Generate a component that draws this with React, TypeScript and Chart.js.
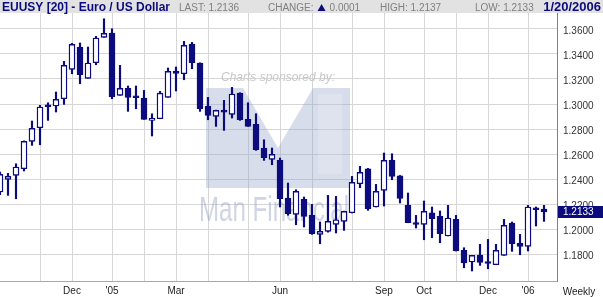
import React, { useEffect, useRef } from 'react';
import { Chart, registerables } from 'chart.js';

Chart.register(...registerables);

// ---- data (weekly candles, EUR/USD) ----
const opens = [
  1.2296, 1.2397, 1.2429, 1.2482, 1.2701, 1.2810, 1.2989, 1.2984, 1.3042, 1.3277,
  1.3456, 1.3205, 1.3330, 1.3533, 1.3568, 1.3069, 1.3125, 1.3056, 1.3048, 1.2869,
  1.2882, 1.3053, 1.3263, 1.3242, 1.3480, 1.3328, 1.2981, 1.2901, 1.2949, 1.2917,
  1.3088, 1.2877, 1.2837, 1.2648, 1.2557, 1.2549, 1.2248, 1.2117, 1.2237, 1.2109,
  1.1957, 1.1981, 1.2037, 1.2061, 1.2130, 1.2362, 1.2482, 1.2176, 1.2309, 1.2549,
  1.2426, 1.2189, 1.2042, 1.2037, 1.2130, 1.2101, 1.1944, 1.2077, 1.1829, 1.1736,
  1.1792, 1.1730, 1.1714, 1.1789, 1.2048, 1.1888, 1.1861, 1.2168, 1.2160,
];
const highs = [
  1.2456, 1.2445, 1.2522, 1.2705, 1.2864, 1.2989, 1.3010, 1.3096, 1.3341, 1.3485,
  1.3488, 1.3456, 1.3541, 1.3682, 1.3602, 1.3309, 1.3144, 1.3144, 1.3109, 1.2922,
  1.3101, 1.3288, 1.3296, 1.3501, 1.3493, 1.3330, 1.3053, 1.2951, 1.3029, 1.3133,
  1.3090, 1.3010, 1.2922, 1.2714, 1.2648, 1.2568, 1.2368, 1.2314, 1.2256, 1.2197,
  1.2056, 1.2269, 1.2261, 1.2143, 1.2421, 1.2501, 1.2485, 1.2357, 1.2608, 1.2602,
  1.2428, 1.2288, 1.2109, 1.2224, 1.2176, 1.2144, 1.2189, 1.2109, 1.1850, 1.1789,
  1.1877, 1.1917, 1.1877, 1.2077, 1.2056, 1.1957, 1.2189, 1.2176, 1.2189,
];
const lows = [
  1.2274, 1.2269, 1.2242, 1.2464, 1.2669, 1.2674, 1.2869, 1.2936, 1.2997, 1.3242,
  1.3162, 1.3205, 1.3314, 1.3533, 1.3042, 1.3069, 1.2941, 1.2962, 1.2877, 1.2744,
  1.2882, 1.3053, 1.3104, 1.3194, 1.3282, 1.2941, 1.2874, 1.2821, 1.2789, 1.2888,
  1.2869, 1.2821, 1.2629, 1.2549, 1.2514, 1.2176, 1.2110, 1.2034, 1.2016, 1.1957,
  1.1882, 1.1975, 1.1968, 1.1989, 1.2128, 1.2330, 1.2149, 1.2176, 1.2184, 1.2394,
  1.2208, 1.2050, 1.2008, 1.1914, 1.1930, 1.1890, 1.1944, 1.1824, 1.1690, 1.1664,
  1.1709, 1.1682, 1.1714, 1.1789, 1.1821, 1.1794, 1.1824, 1.2024, 1.2061,
];
const closes = [
  1.2437, 1.2421, 1.2496, 1.2701, 1.2805, 1.2976, 1.2978, 1.3037, 1.3309, 1.3477,
  1.3234, 1.3328, 1.3528, 1.3565, 1.3058, 1.3125, 1.3053, 1.3050, 1.2877, 1.2885,
  1.3087, 1.3261, 1.3245, 1.3469, 1.3330, 1.2962, 1.2909, 1.2949, 1.2935, 1.3080,
  1.2874, 1.2821, 1.2634, 1.2570, 1.2597, 1.2242, 1.2122, 1.2301, 1.2101, 1.1962,
  1.1981, 1.2061, 1.2074, 1.2141, 1.2373, 1.2453, 1.2162, 1.2301, 1.2549, 1.2421,
  1.2245, 1.2050, 1.2036, 1.2141, 1.2082, 1.1962, 1.2088, 1.1824, 1.1728, 1.1789,
  1.1733, 1.1724, 1.1829, 1.2029, 1.1882, 1.1861, 1.2176, 1.2154, 1.2136,
];

const monthTickIndex = [5, 9, 14, 18, 22, 26, 31, 35, 39, 44, 48, 53, 57, 61, 66];
const monthTickLabels = ['', 'Dec', "'05", '', 'Mar', '', '', 'Jun', '', '', 'Sep', 'Oct', '', 'Dec', "'06"];
const priceTicks = [1.18, 1.2, 1.22, 1.24, 1.26, 1.28, 1.3, 1.32, 1.34, 1.36];
const lastPrice = 1.2133;
const lastPriceText = '1.2133';

const titleText = 'EUUSY [20] - Euro / US Dollar';
const lastText = 'LAST: 1.2136';
const changeLabel = 'CHANGE:';
const changeValue = '0.0001';
const highText = 'HIGH: 1.2137';
const lowText = 'LOW: 1.2133';
const dateText = '1/20/2006';
const periodText = 'Weekly';
const sponsorText = 'Charts sponsored by:';
const sponsorName = 'Man Financial';

const NAVY = '#0b0b7e';
const FONT = '"Liberation Sans", Arial, sans-serif';

const watermarkPlugin = {
  id: 'watermark',
  beforeDatasetsDraw(chart: any) {
    const ctx = chart.ctx as CanvasRenderingContext2D;
    ctx.save();
    ctx.font = `italic 12px ${FONT}`;
    ctx.fillStyle = '#c8c8c8';
    ctx.textBaseline = 'alphabetic';
    ctx.fillText(sponsorText, 221, 81);

    ctx.fillStyle = 'rgba(150,165,200,0.38)';
    ctx.beginPath();
    ctx.moveTo(206, 88);
    ctx.lineTo(243, 88);
    ctx.lineTo(278, 148);
    ctx.lineTo(313, 88);
    ctx.lineTo(350, 88);
    ctx.lineTo(350, 188);
    ctx.lineTo(206, 188);
    ctx.closePath();
    ctx.fill();

    ctx.fillStyle = 'rgba(255,255,255,0.18)';
    ctx.fillRect(318, 94, 24, 80);

    ctx.fillStyle = 'rgba(150,162,195,0.45)';
    ctx.font = `35px ${FONT}`;
    const w = ctx.measureText(sponsorName).width;
    ctx.translate(199, 221);
    ctx.scale(150 / w, 1);
    ctx.fillText(sponsorName, 0, 0);
    ctx.restore();
  },
};

const decorPlugin = {
  id: 'decor',
  afterDraw(chart: any) {
    const ctx = chart.ctx as CanvasRenderingContext2D;
    const width = chart.width;
    ctx.save();
    // header bar
    ctx.fillStyle = '#e2e2e2';
    ctx.fillRect(0, 0, width, 13);
    ctx.textBaseline = 'alphabetic';
    ctx.fillStyle = NAVY;
    ctx.font = `bold 12px ${FONT}`;
    ctx.fillText(titleText, 2, 11);
    ctx.font = `10px ${FONT}`;
    ctx.fillStyle = '#808080';
    ctx.fillText(lastText, 179, 11);
    ctx.fillText(changeLabel, 268, 11);
    const cx = 268 + ctx.measureText(changeLabel).width + 4;
    ctx.fillStyle = NAVY;
    ctx.beginPath();
    ctx.moveTo(cx, 11);
    ctx.lineTo(cx + 8, 11);
    ctx.lineTo(cx + 4, 4);
    ctx.closePath();
    ctx.fill();
    ctx.fillStyle = '#808080';
    ctx.fillText(changeValue, cx + 12, 11);
    ctx.fillText(highText, 380, 11);
    ctx.fillText(lowText, 475, 11);
    ctx.fillStyle = NAVY;
    ctx.font = `bold 13px ${FONT}`;
    ctx.textAlign = 'right';
    ctx.fillText(dateText, 601, 11);

    // period label
    ctx.textAlign = 'center';
    ctx.textBaseline = 'middle';
    ctx.fillStyle = '#222';
    ctx.font = `10px ${FONT}`;
    ctx.fillText(periodText, 579, 292);

    // last price box
    const y = chart.scales.y.getPixelForValue(lastPrice);
    const left = chart.chartArea.right + 1;
    ctx.fillStyle = NAVY;
    ctx.fillRect(left, Math.round(y) - 6, width - left, 12);
    ctx.fillStyle = '#ffffff';
    ctx.textAlign = 'left';
    ctx.font = `10px ${FONT}`;
    ctx.fillText(lastPriceText, 563, Math.round(y));
    ctx.restore();
  },
};

export default function App() {
  const ref = useRef<HTMLCanvasElement>(null);
  useEffect(() => {
    document.body.style.margin = '0';
    const canvas = ref.current!;
    const idx = closes.map((_, i) => i);
    const up = closes.map((c, i) => c >= opens[i]);
    const chart = new Chart(canvas, {
      type: 'bar',
      data: {
        datasets: [
          {
            label: 'body',
            data: idx.map((i) => ({ x: i, y: [Math.min(opens[i], closes[i]), Math.max(opens[i], closes[i])] })) as any,
            backgroundColor: up.map((u) => (u ? '#ffffff' : NAVY)),
            borderColor: NAVY,
            borderWidth: 1.4,
            borderSkipped: false,
            barThickness: 6,
            minBarLength: 2,
            grouped: false,
            order: 0,
          } as any,
          {
            label: 'wick',
            data: idx.map((i) => ({ x: i, y: [lows[i], highs[i]] })) as any,
            backgroundColor: NAVY,
            borderWidth: 0,
            barThickness: 1.5,
            grouped: false,
            order: 1,
          } as any,
        ],
      },
      options: {
        animation: false,
        responsive: false,
        devicePixelRatio: 1,
        layout: { padding: { top: 13, left: 0, right: 0, bottom: 0 } },
        plugins: { legend: { display: false }, tooltip: { enabled: false } },
        scales: {
          x: {
            type: 'linear',
            min: 0,
            max: 557 / 8,
            offset: false,
            grid: { color: '#d6d6d6', lineWidth: 1, drawTicks: false, offset: false },
            border: { color: '#a8a8a8', width: 1 },
            afterBuildTicks: (scale: any) => {
              scale.ticks = monthTickIndex.map((v) => ({ value: v }));
            },
            afterFit: (scale: any) => {
              scale.height = 16;
            },
            ticks: {
              autoSkip: false,
              maxRotation: 0,
              minRotation: 0,
              padding: 4,
              color: '#222',
              font: { family: FONT, size: 10 },
              callback: (_v: any, i: number) => monthTickLabels[i] ?? '',
            },
          },
          y: {
            type: 'linear',
            position: 'right',
            min: 1.1584,
            max: 1.3728,
            grid: { color: '#d6d6d6', lineWidth: 1, drawTicks: false },
            border: { color: '#808080', width: 1 },
            afterBuildTicks: (scale: any) => {
              scale.ticks = priceTicks.map((v) => ({ value: v }));
            },
            afterFit: (scale: any) => {
              scale.width = 46;
            },
            ticks: {
              padding: 6,
              labelOffset: 2,
              color: '#333',
              font: { family: FONT, size: 10 },
              callback: (v: any) => Number(v).toFixed(4),
            },
          },
        },
      } as any,
      plugins: [watermarkPlugin, decorPlugin],
    });
    return () => chart.destroy();
  }, []);
  return (
    <div style={{ width: 603, height: 297, background: '#fff' }}>
      <canvas ref={ref} width={603} height={297} style={{ display: 'block', width: 603, height: 297 }} />
    </div>
  );
}
